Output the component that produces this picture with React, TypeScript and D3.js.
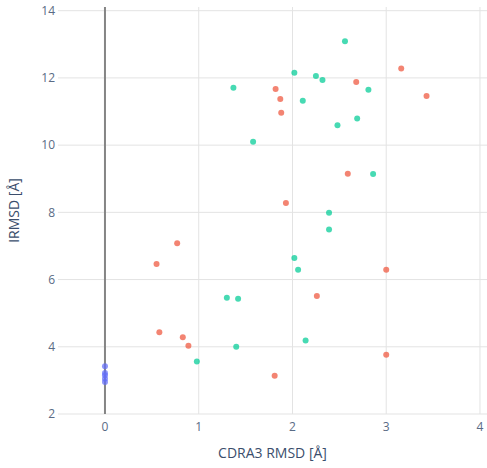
import React from "react";
import * as d3 from "d3";

const blueX = [0, 0, 0, 0, 0];
const blueY = [3.42, 3.22, 3.15, 3.05, 2.95];

const redX = [1.82, 1.87, 1.88, 3.16, 2.68, 3.43, 2.59, 1.93, 0.77, 0.55, 0.58, 0.83, 0.89, 1.81, 3.0, 2.26, 3.0];
const redY = [11.67, 11.37, 10.96, 12.28, 11.88, 11.46, 9.15, 8.28, 7.08, 6.46, 4.43, 4.28, 4.03, 3.14, 6.29, 5.51, 3.76];

const greenX = [1.37, 1.58, 2.56, 2.02, 2.25, 2.32, 2.81, 2.11, 2.69, 2.48, 2.86, 1.3, 1.42, 1.4, 0.98, 2.39, 2.39, 2.02, 2.06, 2.14];
const greenY = [11.71, 10.1, 13.09, 12.15, 12.06, 11.94, 11.65, 11.32, 10.79, 10.59, 9.14, 5.46, 5.43, 4.0, 3.56, 7.99, 7.49, 6.64, 6.29, 4.19];

const xTicks = [0, 1, 2, 3, 4];
const yTicks = [2, 4, 6, 8, 10, 12, 14];

const W = 487;
const H = 468;
const L = 58;
const R = 487;
const T = 7;
const B = 414;

export default function App() {
  const x = d3.scaleLinear().domain([-0.501, 4.075]).range([L, R]);
  const y = d3.scaleLinear().domain([2, 14.11]).range([B, T]);
  const font = "'Open Sans', sans-serif";
  const series = [
    { xs: blueX, ys: blueY, color: "#636efa" },
    { xs: redX, ys: redY, color: "#EF553B" },
    { xs: greenX, ys: greenY, color: "#00cc96" },
  ];
  return (
    <svg width={W} height={H} style={{ position: "absolute", left: 0, top: 0 }}>
      <rect x={0} y={0} width={W} height={H} fill="#fff" />
      {yTicks.map((t) => (
        <line key={"gy" + t} x1={L} x2={R} y1={y(t)} y2={y(t)} stroke="#e3e3e3" strokeWidth={1} />
      ))}
      {xTicks.filter((t) => t !== 0).map((t) => (
        <line key={"gx" + t} x1={x(t)} x2={x(t)} y1={T} y2={B} stroke="#e3e3e3" strokeWidth={1} />
      ))}
      <line x1={x(0)} x2={x(0)} y1={T} y2={B} stroke="#858585" strokeWidth={2} />
      {yTicks.map((t) => (
        <text key={"ty" + t} x={L - 3} y={y(t)} dy="0.35em" textAnchor="end" fontFamily={font} fontSize={12} fill="#5a6b85">
          {t}
        </text>
      ))}
      {xTicks.map((t) => (
        <text key={"tx" + t} x={x(t)} y={B + 17} textAnchor="middle" fontFamily={font} fontSize={12} fill="#5a6b85">
          {t}
        </text>
      ))}
      {series.map((s, si) =>
        s.xs.map((xv, i) => (
          <circle key={si + "-" + i} cx={x(xv)} cy={y(s.ys[i])} r={3} fill={s.color} opacity={0.72} />
        ))
      )}
      <text x={(L + R) / 2} y={458} textAnchor="middle" fontFamily={font} fontSize={14} fill="#3b4e6c">
        CDRA3 RMSD [Å]
      </text>
      <text transform={`translate(19,${(T + B) / 2}) rotate(-90)`} textAnchor="middle" fontFamily={font} fontSize={14} fill="#3b4e6c">
        IRMSD [Å]
      </text>
    </svg>
  );
}
